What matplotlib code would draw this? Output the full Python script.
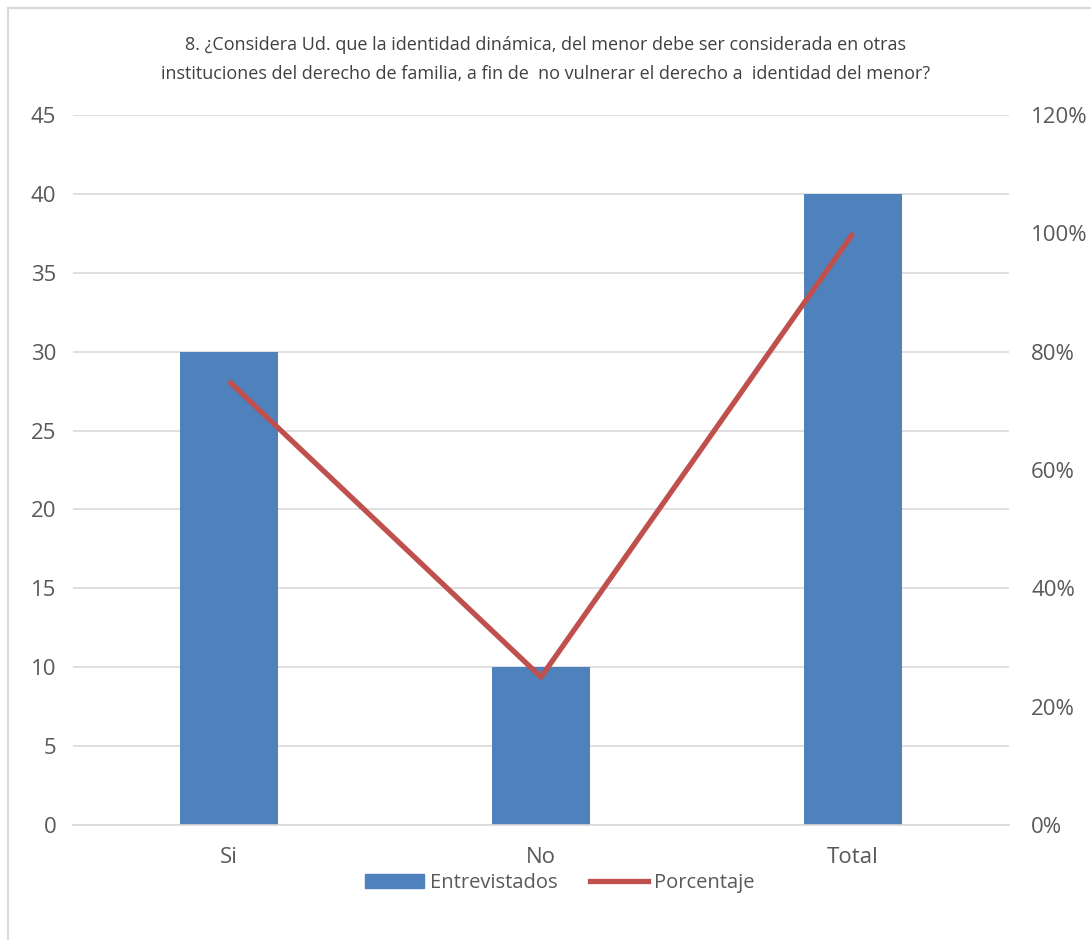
import matplotlib
matplotlib.use("Agg")
import matplotlib.pyplot as plt
from matplotlib.patches import Rectangle
from matplotlib.lines import Line2D
from matplotlib.ticker import FuncFormatter, MultipleLocator

plt.rcParams['font.family'] = ['Open Sans', 'DejaVu Sans']

categories = ["Si", "No", "Total"]
entrevistados = [30, 10, 40]
porcentaje = [0.75, 0.25, 1.00]
title = ("8. ¿Considera Ud. que la identidad dinámica, del menor debe ser considerada en otras\n"
         "instituciones del derecho de familia, a fin de  no vulnerar el derecho a  identidad del menor?")

W, H = 1091, 940
fig = plt.figure(figsize=(W / 100, H / 100), dpi=100)

# outer chart frame
fig.patches.append(Rectangle((8 / W, -0.05), 1.1, 1 - 8 / H + 0.05, transform=fig.transFigure,
                             fill=False, edgecolor="#D9D9D9", linewidth=1.5))

ax = fig.add_axes([73 / W, 1 - 825 / H, (1009 - 73) / W, (825 - 115) / H])
x = list(range(len(categories)))
ax.bar(x, entrevistados, width=0.314, color="#4F81BD", zorder=2)
ax.set_xlim(-0.5, 2.5)
ax.set_ylim(0, 45)
ax.yaxis.set_major_locator(MultipleLocator(5))
ax.set_xticks(x)
ax.set_xticklabels(categories)
ax.grid(axis="y", color="#D9D9D9", linewidth=1.2, zorder=0)
ax.set_axisbelow(True)
for s in ax.spines.values():
    s.set_visible(False)
ax.spines["bottom"].set_visible(True)
ax.spines["bottom"].set_color("#D9D9D9")
ax.spines["bottom"].set_linewidth(1.2)
ax.tick_params(axis="both", length=0, labelsize=16, labelcolor="#595959")
ax.tick_params(axis="y", pad=12)
ax.tick_params(axis="x", pad=16)

ax2 = ax.twinx()
ax2.plot(x, porcentaje, color="#C0504D", linewidth=3.8, zorder=3, solid_capstyle="butt")
ax2.set_ylim(0, 1.2)
ax2.yaxis.set_major_locator(MultipleLocator(0.2))
ax2.yaxis.set_major_formatter(FuncFormatter(lambda v, p: f"{v * 100:.0f}%"))
for s in ax2.spines.values():
    s.set_visible(False)
ax2.tick_params(axis="y", length=0, labelsize=16, labelcolor="#595959", pad=16)

fig.text(0.5, 1 - 59.5 / H, title, ha="center", va="center", fontsize=13,
         color="#404040", linespacing=1.8)

handles = [Rectangle((0, 0), 1, 1, color="#4F81BD"),
           Line2D([0], [0], color="#C0504D", linewidth=3.8)]
fig.legend(handles, ["Entrevistados", "Porcentaje"], loc="center",
           bbox_to_anchor=(560 / W, 1 - 883 / H), ncol=2, frameon=False,
           fontsize=14.5, labelcolor="#595959", handlelength=2.9,
           handletextpad=0.3, columnspacing=1.6)

fig.savefig("out.png", dpi=100)
